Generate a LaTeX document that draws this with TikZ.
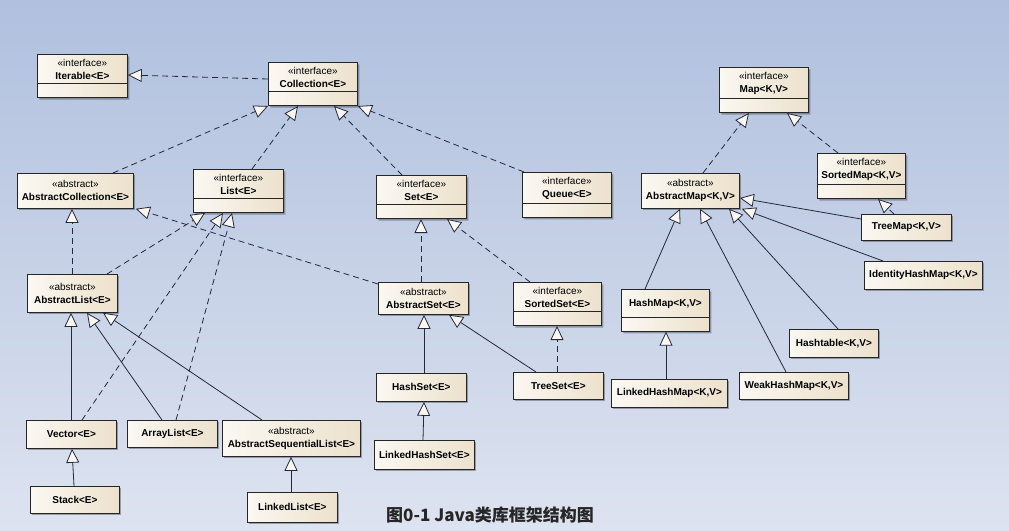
\documentclass[tikz,border=0pt]{standalone}
\usepackage{fontspec}
\setmainfont{Liberation Sans}
\newfontfamily\cjk{Noto Sans CJK SC}
\usetikzlibrary{arrows.meta,shapes.multipart,shadows}
\definecolor{bgtop}{RGB}{176,192,222}
\definecolor{bgbot}{RGB}{221,227,240}
\definecolor{boxlight}{RGB}{251,248,242}
\definecolor{boxdark}{RGB}{236,225,204}
\definecolor{umlline}{RGB}{35,40,60}

\begin{document}
\begin{tikzpicture}[x=1pt, y=-1pt,
   every node/.style={font=\fontsize{10}{13}\selectfont},
   box/.style={draw=black!85, line width=.8pt, anchor=north west, align=center,
     left color=boxlight, right color=boxdark, inner xsep=3pt,
     drop shadow={shadow xshift=2pt, shadow yshift=-2pt, fill=black, opacity=.3}},
   cls/.style={box, minimum height=27},
   abs/.style={box, minimum height=35, inner ysep=2pt},
   iface/.style={box, rectangle split, rectangle split parts=2, inner ysep=4pt,
     rectangle split empty part height=1pt},
   impl/.style={draw=umlline, line width=.8pt, dash pattern=on 6pt off 4pt,
     -{Triangle[open, fill=boxlight, length=14pt, width=13pt]}},
   gen/.style={draw=umlline, line width=.8pt,
     -{Triangle[open, fill=boxlight, length=14pt, width=13pt]}}]

\shade[top color=bgtop, bottom color=bgbot] (0,0) rectangle (1009,530);
\useasboundingbox (0,0) rectangle (1009,530);

% collection side
\node[iface, minimum width=90] (iterable) at (37,54) {«interface»\\\textbf{Iterable<E>}\nodepart{two}};
\node[iface, minimum width=89] (coll) at (268,62) {«interface»\\\textbf{Collection<E>}\nodepart{two}};
\node[abs, minimum width=116] (abscoll) at (17,173) {«abstract»\\\textbf{AbstractCollection<E>}};
\node[iface, minimum width=90] (list) at (193,169) {«interface»\\\textbf{List<E>}\nodepart{two}};
\node[iface, minimum width=90] (set) at (376,175) {«interface»\\\textbf{Set<E>}\nodepart{two}};
\node[iface, minimum width=89] (queue) at (522,172) {«interface»\\\textbf{Queue<E>}\nodepart{two}};
\node[abs, minimum width=90, minimum height=38] (abslist) at (27,274) {«abstract»\\\textbf{AbstractList<E>}};
\node[abs, minimum width=90, minimum height=32] (absset) at (378,282) {«abstract»\\\textbf{AbstractSet<E>}};
\node[iface, minimum width=88] (sortedset) at (513,282) {«interface»\\\textbf{SortedSet<E>}\nodepart{two}};
\node[cls, minimum width=90, minimum height=28] (vector) at (26,420) {\textbf{Vector<E>}};
\node[cls, minimum width=90] (arraylist) at (127,420) {\textbf{ArrayList<E>}};
\node[abs, minimum width=138, minimum height=36] (absseqlist) at (222,420) {«abstract»\\\textbf{AbstractSequentialList<E>}};
\node[cls, minimum width=89] (stack) at (30,486) {\textbf{Stack<E>}};
\node[cls, minimum width=90, minimum height=30] (linkedlist) at (247,492) {\textbf{LinkedList<E>}};
\node[cls, minimum width=90, minimum height=28] (hashset) at (376,373) {\textbf{HashSet<E>}};
\node[cls, minimum width=90] (treeset) at (513,372) {\textbf{TreeSet<E>}};
\node[cls, minimum width=100, minimum height=29] (linkedhashset) at (374,440) {\textbf{LinkedHashSet<E>}};

% map side
\node[iface, minimum width=89] (map) at (719,67) {«interface»\\\textbf{Map<K,V>}\nodepart{two}};
\node[iface, minimum width=88] (sortedmap) at (817,153) {«interface»\\\textbf{SortedMap<K,V>}\nodepart{two}};
\node[abs, minimum width=98] (absmap) at (641,173) {«abstract»\\\textbf{AbstractMap<K,V>}};
\node[cls, minimum width=90, minimum height=26] (treemap) at (861,214) {\textbf{TreeMap<K,V>}};
\node[cls, minimum width=118, minimum height=28] (idhashmap) at (864,261) {\textbf{IdentityHashMap<K,V>}};
\node[iface, minimum width=88] (hashmap) at (621,289) {\raisebox{0pt}[13pt][6pt]{\textbf{HashMap<K,V>}}\nodepart{two}};
\node[cls, minimum width=89, minimum height=28] (hashtable) at (789,329) {\textbf{Hashtable<K,V>}};
\node[cls, minimum width=109] (weakhashmap) at (739,372) {\textbf{WeakHashMap<K,V>}};
\node[cls, minimum width=116, minimum height=28] (linkedhashmap) at (611,379) {\textbf{LinkedHashMap<K,V>}};

\node[font=\cjk\bfseries\fontsize{17}{20}\selectfont, text=black!85] (caption) at (490,515) {图0-1 Java类库框架结构图};

% realizations
\draw[impl] ([yshift=-17pt]coll.north west) -- ([yshift=-21pt]iterable.north east);
\draw[impl] ([xshift=96pt]abscoll.north west) -- (coll.south west);
\draw[impl] ([xshift=59pt]list.north west) -- ([xshift=30pt]coll.south west);
\draw[impl] ([xshift=26pt]set.north west) -- ([xshift=66pt]coll.south west);
\draw[impl] ([xshift=2pt]queue.north west) -- (coll.south east);
\draw[impl] ([xshift=45pt]abslist.north west) -- ([xshift=55pt]abscoll.south west);
\draw[impl] ([xshift=80pt]abslist.north west) -- ([xshift=12pt]list.south west);
\draw[impl] ([xshift=56pt]vector.north west) -- ([xshift=30pt]list.south west);
\draw[impl] ([xshift=49pt]arraylist.north west) -- ([xshift=39pt]list.south west);
\draw[impl] ([yshift=-2pt]absset.north west) -- ([xshift=2pt]abscoll.south east);
\draw[impl] ([xshift=43pt]absset.north west) -- ([xshift=45pt]set.south west);
\draw[impl] ([xshift=17pt]sortedset.north west) -- ([xshift=71pt]set.south west);
\draw[impl] ([xshift=44pt]treeset.north west) -- ([xshift=44pt]sortedset.south west);
\draw[impl] ([xshift=62pt]absmap.north west) -- ([xshift=30pt]map.south west);
\draw[impl] ([xshift=21pt]sortedmap.north west) -- ([xshift=68pt]map.south west);
\draw[impl] ([xshift=33pt]treemap.north west) -- ([xshift=61pt]sortedmap.south west);

% generalizations
\draw[gen] ([xshift=45pt]vector.north west) -- ([xshift=44pt]abslist.south west);
\draw[gen] ([xshift=35pt]arraylist.north west) -- ([xshift=60pt]abslist.south west);
\draw[gen] ([xshift=40pt]absseqlist.north west) -- ([xshift=76pt]abslist.south west);
\draw[gen] ([xshift=44pt]stack.north west) -- ([xshift=46pt]vector.south west);
\draw[gen] ([xshift=44pt]linkedlist.north west) -- ([xshift=69pt]absseqlist.south west);
\draw[gen] ([xshift=48pt]hashset.north west) -- ([xshift=46pt]absset.south west);
\draw[gen] ([xshift=23pt]treeset.north west) -- ([xshift=71pt]absset.south west);
\draw[gen] ([xshift=49pt]linkedhashset.north west) -- ([xshift=48pt]hashset.south west);
\draw[gen] ([xshift=24pt]hashmap.north west) -- ([xshift=39pt]absmap.south west);
\draw[gen] ([xshift=47pt]weakhashmap.north west) -- ([xshift=59pt]absmap.south west);
\draw[gen] ([xshift=49pt]hashtable.north west) -- ([xshift=88pt]absmap.south west);
\draw[gen] ([yshift=-5pt]treemap.north west) -- ([yshift=-25pt]absmap.north east);
\draw[gen] ([xshift=19pt]idhashmap.north west) -- ([xshift=2pt]absmap.south east);
\draw[gen] ([xshift=55pt]linkedhashmap.north west) -- ([xshift=45pt]hashmap.south west);

\end{tikzpicture}
\end{document}
